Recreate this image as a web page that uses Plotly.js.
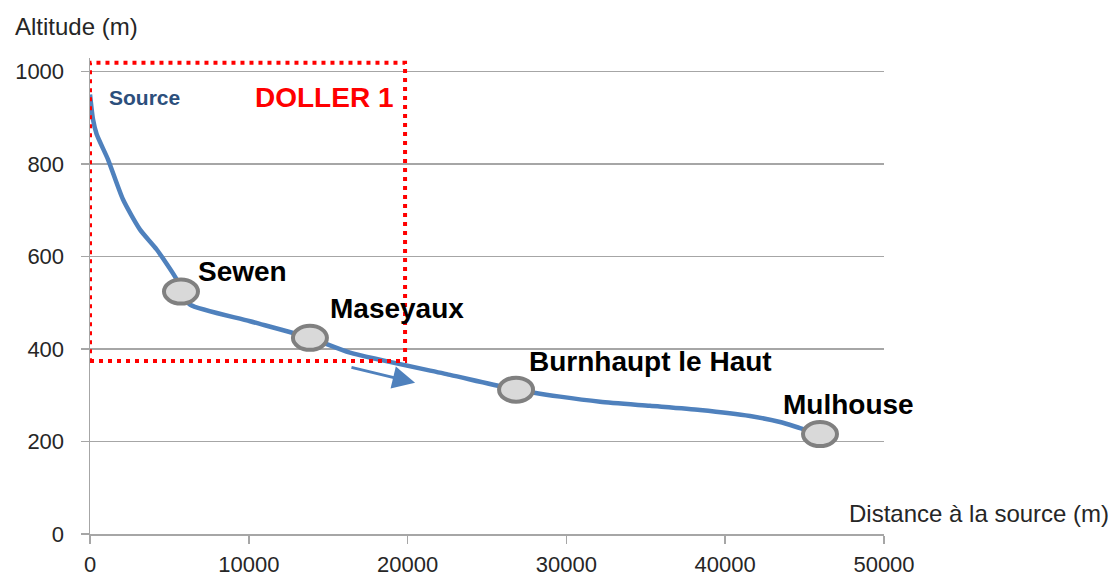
<!DOCTYPE html>
<html>
<head>
<meta charset="utf-8">
<script src="https://cdn.plot.ly/plotly-3.0.1.min.js"></script>
<style>html,body{margin:0;padding:0;background:#fff;}#chart{width:1112px;height:579px;}</style>
</head>
<body>
<div id="chart"></div>
<script>
// River profile data (distance from source in m, altitude in m)
const distance = [0, 190, 420, 1130, 2080, 3150, 4200, 5460, 5730, 6300, 10080, 13850, 16370, 22670, 26830, 29600, 32120, 35260, 38410, 41560, 43450, 44710, 45970];
const altitude = [950, 896, 864, 810, 723, 658, 615, 550, 524, 496, 460, 424, 392, 344, 312, 297, 286, 277, 268, 255, 242, 229, 216];

// Towns along the river
const townNames = ["Sewen", "Maseyaux", "Burnhaupt le Haut", "Mulhouse"];
const townDistance = [5730, 13850, 26830, 45970];
const townAltitude = [524, 424, 312, 216];

// Zone "DOLLER 1"
const zoneName = "DOLLER 1";
const zoneDistance = [0, 19840];
const zoneAltitude = [374, 1019];

// Flow direction arrow (start, end)
const arrowDistance = [16370, 20470];
const arrowAltitude = [361, 327];

const xTicks = [0, 10000, 20000, 30000, 40000, 50000];
const yTicks = [0, 200, 400, 600, 800, 1000];

const FONT = "Liberation Sans, Arial, sans-serif";
const BLUE = "#4f81bd";
const GRID = "#a6a6a6";

const trace = {
  x: distance, y: altitude, type: "scatter", mode: "lines",
  line: {color: BLUE, width: 4.5, shape: "spline", smoothing: 0.6},
  hoverinfo: "skip"
};

const shapes = [];
// dotted red rectangle
shapes.push({
  type: "rect", xref: "x", yref: "y",
  x0: zoneDistance[0], x1: zoneDistance[1], y0: zoneAltitude[0], y1: zoneAltitude[1],
  line: {color: "#ff0000", width: 4, dash: "4px,5px"}, fillcolor: "rgba(0,0,0,0)", layer: "above"
});
// town markers (ellipses)
townDistance.forEach((d, i) => {
  shapes.push({
    type: "circle", xref: "x", yref: "y",
    xsizemode: "pixel", ysizemode: "pixel",
    xanchor: d, yanchor: townAltitude[i],
    x0: -17, x1: 17, y0: -12, y1: 12,
    fillcolor: "#d9d9d9", line: {color: "#808080", width: 4}, layer: "above"
  });
});

const labelOffsets = [[15, 20], [18, 29], [11, 28], [-39, 30]];
const annotations = townNames.map((n, i) => ({
  x: townDistance[i], y: townAltitude[i], xref: "x", yref: "y",
  text: "<b>" + n + "</b>", showarrow: false, xanchor: "left", yanchor: "middle",
  xshift: labelOffsets[i][0], yshift: labelOffsets[i][1],
  font: {family: FONT, size: 28, color: "#000"}
}));

annotations.push({
  x: 3460, y: 944, xref: "x", yref: "y", text: "<b>Source</b>", showarrow: false,
  xanchor: "center", yanchor: "middle",
  font: {family: FONT, size: 21, color: "#2c4f7c"}
});
annotations.push({
  x: 14740, y: 944, xref: "x", yref: "y", text: "<b>" + zoneName + "</b>", showarrow: false,
  xanchor: "center", yanchor: "middle",
  font: {family: FONT, size: 28, color: "#ff0000"}
});
annotations.push({
  x: arrowDistance[1], y: arrowAltitude[1], ax: arrowDistance[0], ay: arrowAltitude[0],
  xref: "x", yref: "y", axref: "x", ayref: "y", text: "", showarrow: true,
  arrowhead: 2, arrowsize: 1.5, arrowwidth: 3, arrowcolor: BLUE
});
annotations.push({
  xref: "paper", yref: "paper", x: (13 - 90) / 794, y: (534 - 26) / 476,
  xanchor: "left", yanchor: "middle", showarrow: false, text: "Altitude (m)",
  font: {family: FONT, size: 24, color: "#262626"}
});
annotations.push({
  xref: "paper", yref: "paper", x: (1111 - 90) / 794, y: (534 - 513) / 476,
  xanchor: "right", yanchor: "middle", showarrow: false, text: "Distance à la source (m)",
  font: {family: FONT, size: 24, color: "#262626"}
});

const layout = {
  width: 1112, height: 579,
  margin: {l: 90, r: 228, t: 58, b: 45, pad: 0},
  paper_bgcolor: "#fff", plot_bgcolor: "#fff",
  showlegend: false,
  xaxis: {
    range: [0, 50000], tickvals: xTicks, ticktext: xTicks.map(String),
    showgrid: false, zeroline: false, showline: true, linecolor: GRID, linewidth: 1.5,
    ticks: "outside", ticklen: 8, tickwidth: 1.5, tickcolor: GRID,
    ticklabelstandoff: 2,
    tickfont: {family: FONT, size: 22, color: "#262626"}, fixedrange: true
  },
  yaxis: {
    range: [0, 1029], tickvals: yTicks, ticktext: yTicks.map(String),
    showgrid: true, gridcolor: GRID, gridwidth: 1.5, zeroline: false,
    showline: true, linecolor: GRID, linewidth: 1.5,
    ticks: "outside", ticklen: 8, tickwidth: 1.5, tickcolor: GRID,
    ticklabelstandoff: 12,
    tickfont: {family: FONT, size: 22, color: "#262626"}, fixedrange: true
  },
  shapes: shapes,
  annotations: annotations
};

Plotly.newPlot("chart", [trace], layout, {displayModeBar: false, staticPlot: true});
</script>
</body>
</html>
